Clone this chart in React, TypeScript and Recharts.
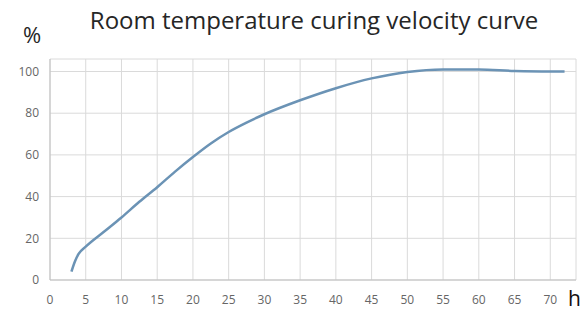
import { LineChart, Line, XAxis, YAxis, CartesianGrid } from "recharts";

const hours = [3, 3.5, 4, 5, 7.5, 10, 12.5, 15, 17.5, 20, 22.5, 25, 27.5, 30, 35, 40, 45, 50, 55, 60, 65, 72];
const cured = [4, 9, 12.5, 16, 23, 30, 37.5, 44.5, 52, 59, 65.5, 71, 75.5, 79.5, 86.2, 92, 96.7, 99.8, 101, 101, 100.3, 100];
const xTicks = [0, 5, 10, 15, 20, 25, 30, 35, 40, 45, 50, 55, 60, 65, 70];
const yTicks = [0, 20, 40, 60, 80, 100];

const data = hours.map((h, i) => ({ h, v: cured[i] }));

const font = "'Open Sans', sans-serif";
const tickStyle = { fontSize: 12, fill: "#666666", fontFamily: font };

export default function App() {
  return (
    <div style={{ position: "absolute", left: 0, top: 0, width: 587, height: 312, background: "#fff" }}>
      <div
        style={{
          position: "absolute",
          left: 0,
          width: 628,
          top: 5,
          textAlign: "center",
          fontFamily: font,
          fontSize: 24,
          color: "#262626",
          lineHeight: "30px",
        }}
      >
        Room temperature curing velocity curve
      </div>
      <div style={{ position: "absolute", left: 23, top: 19, fontFamily: font, fontSize: 22, color: "#262626", lineHeight: "30px" }}>
        %
      </div>
      <div
        style={{
          position: "absolute",
          left: 568,
          top: 285,
          width: 14,
          fontFamily: font,
          fontSize: 21,
          color: "#111",
          lineHeight: "26px",
        }}
      >
        h
      </div>
      <LineChart width={587} height={312} data={data} margin={{ top: 59, right: 11, left: 0, bottom: 0 }}>
        <CartesianGrid stroke="#dadada" strokeWidth={1} />
        <XAxis
          type="number"
          dataKey="h"
          domain={[0, 73.6]}
          ticks={xTicks}
          height={32}
          tickLine={false}
          tickSize={6}
          tickMargin={9}
          axisLine={{ stroke: "#bfbfbf" }}
          tick={tickStyle}
          interval={0}
        />
        <YAxis
          type="number"
          domain={[0, 106]}
          ticks={yTicks}
          width={50}
          tickLine={false}
          tickSize={6}
          tickMargin={5}
          axisLine={{ stroke: "#bfbfbf" }}
          tick={tickStyle}
          interval={0}
        />
        <Line
          type="monotone"
          dataKey="v"
          stroke="#6b93b5"
          strokeWidth={2.5}
          dot={false}
          isAnimationActive={false}
        />
      </LineChart>
    </div>
  );
}
